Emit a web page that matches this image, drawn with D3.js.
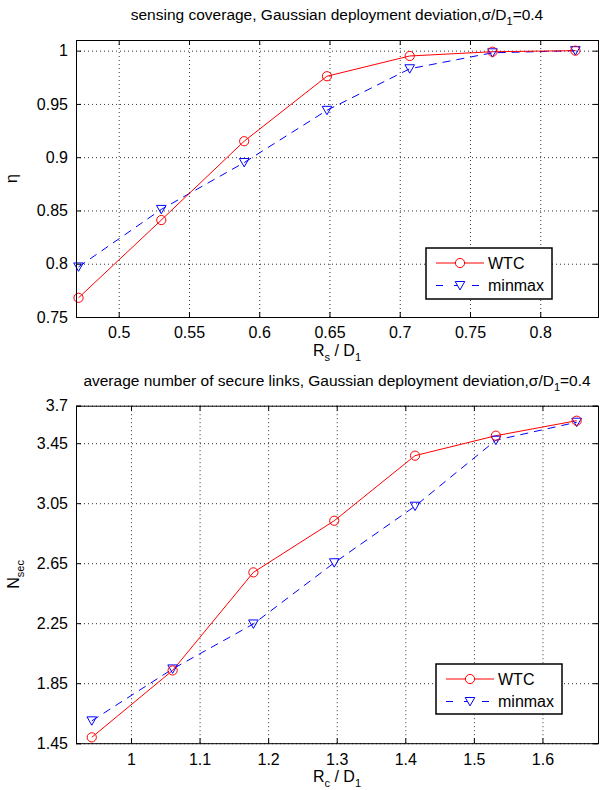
<!DOCTYPE html>
<html>
<head>
<meta charset="utf-8">
<script src="https://cdn.jsdelivr.net/npm/d3@7"></script>
<style>
  body { margin: 0; background: #fff; }
  svg { display: block; font-family: "Liberation Sans", Arial, sans-serif; }
  .grid line { stroke: #000; stroke-width: 1; stroke-dasharray: 1,3; opacity: 0.8; }
  .axis path, .axis line { stroke: #000; }
  .axis text { font-size: 16px; fill: #000; }
</style>
</head>
<body>
<div id="chart"></div>
<script>
// top panel: sensing coverage
var rsD1 = [0.4714, 0.5303, 0.5893, 0.6482, 0.7071, 0.7660, 0.8250];
var etaWTC = [0.768, 0.841, 0.915, 0.976, 0.995, 0.999, 1.000];
var etaMinmax = [0.797, 0.851, 0.895, 0.944, 0.983, 0.998, 1.000];
var rsTicks = [0.5, 0.55, 0.6, 0.65, 0.7, 0.75, 0.8];
var etaTicks = [0.75, 0.8, 0.85, 0.9, 0.95, 1];

// bottom panel: secure links
var rcD1 = [0.9428, 1.0607, 1.1785, 1.2964, 1.4142, 1.5321, 1.6499];
var nsecWTC = [1.489, 1.935, 2.589, 2.933, 3.367, 3.500, 3.600];
var nsecMinmax = [1.599, 1.945, 2.245, 2.653, 3.030, 3.470, 3.590];
var rcTicks = [1, 1.1, 1.2, 1.3, 1.4, 1.5, 1.6];
var nsecTicks = [1.45, 1.85, 2.25, 2.65, 3.05, 3.45, 3.7];

var seriesNames = ['WTC', 'minmax'];

var width = 613, height = 790;
var svg = d3.select('#chart').append('svg')
    .attr('width', width)
    .attr('height', height);

function fmt(d) { return String(+d.toFixed(2)); }

var tri = 'M-4.8,-4 L4.8,-4 L0,4.4 Z';

function drawPanel(cfg) {
    var x = d3.scaleLinear().domain(cfg.xDomain).range([cfg.left, cfg.right]);
    var y = d3.scaleLinear().domain(cfg.yDomain).range([cfg.bottom, cfg.top]);
    var w = cfg.right - cfg.left, h = cfg.bottom - cfg.top;
    var g = svg.append('g');

    // dotted grid
    g.append('g').attr('class', 'grid')
        .attr('transform', 'translate(0,' + cfg.bottom + ')')
        .call(d3.axisBottom(x).tickValues(cfg.xTicks).tickSize(-h).tickFormat(''))
        .call(function(s) { s.select('.domain').remove(); });
    g.append('g').attr('class', 'grid')
        .attr('transform', 'translate(' + cfg.left + ',0)')
        .call(d3.axisLeft(y).tickValues(cfg.yTicks).tickSize(-w).tickFormat(''))
        .call(function(s) { s.select('.domain').remove(); });

    // lines + markers
    var line = d3.line()
        .x(function(d) { return x(d[0]); })
        .y(function(d) { return y(d[1]); });
    var wtc = cfg.xs.map(function(v, i) { return [v, cfg.a[i]]; });
    var mm = cfg.xs.map(function(v, i) { return [v, cfg.b[i]]; });

    g.append('path').datum(mm)
        .attr('d', line).attr('fill', 'none')
        .attr('stroke', '#0000ff').attr('stroke-width', 1)
        .attr('stroke-dasharray', '8,6');
    g.append('path').datum(wtc)
        .attr('d', line).attr('fill', 'none')
        .attr('stroke', '#ff0000').attr('stroke-width', 1);

    g.selectAll('.tri').data(mm).enter().append('path')
        .attr('d', tri)
        .attr('transform', function(d) { return 'translate(' + x(d[0]) + ',' + y(d[1]) + ')'; })
        .attr('fill', 'none').attr('stroke', '#0000ff');
    g.selectAll('.circ').data(wtc).enter().append('circle')
        .attr('cx', function(d) { return x(d[0]); })
        .attr('cy', function(d) { return y(d[1]); })
        .attr('r', 4.6)
        .attr('fill', 'none').attr('stroke', '#ff0000');

    // axes, ticks pointing inward on all sides
    g.append('g').attr('class', 'axis')
        .attr('transform', 'translate(0,' + cfg.bottom + ')')
        .call(d3.axisBottom(x).tickValues(cfg.xTicks).tickSize(-5).tickPadding(10).tickFormat(fmt));
    g.append('g').attr('class', 'axis')
        .attr('transform', 'translate(0,' + cfg.top + ')')
        .call(d3.axisTop(x).tickValues(cfg.xTicks).tickSize(-5).tickFormat(''));
    g.append('g').attr('class', 'axis')
        .attr('transform', 'translate(' + cfg.left + ',0)')
        .call(d3.axisLeft(y).tickValues(cfg.yTicks).tickSize(-5).tickPadding(8).tickFormat(fmt));
    g.append('g').attr('class', 'axis')
        .attr('transform', 'translate(' + cfg.right + ',0)')
        .call(d3.axisRight(y).tickValues(cfg.yTicks).tickSize(-5).tickFormat(''));

    // title
    var t = g.append('text')
        .attr('x', cfg.left + w / 2).attr('y', cfg.top - 20)
        .attr('text-anchor', 'middle').attr('font-size', 15.5);
    t.append('tspan').text(cfg.title + '\u03c3/D');
    t.append('tspan').attr('font-size', 11).attr('dy', 5).text('1');
    t.append('tspan').attr('dy', -5).text('=0.4');

    // x label
    var xl = g.append('text')
        .attr('x', cfg.left + w / 2).attr('y', cfg.bottom + 39)
        .attr('text-anchor', 'middle').attr('font-size', 16);
    xl.append('tspan').text('R');
    xl.append('tspan').attr('font-size', 11).attr('dy', 5).text(cfg.xSub);
    xl.append('tspan').attr('dy', -5).text(' / D');
    xl.append('tspan').attr('font-size', 11).attr('dy', 5).text('1');

    // y label
    var yl = g.append('text')
        .attr('transform', 'translate(' + cfg.yLabelX + ',' + (cfg.top + h / 2) + ') rotate(-90)')
        .attr('text-anchor', 'middle').attr('font-size', 16);
    yl.append('tspan').text(cfg.yMain);
    if (cfg.ySub) yl.append('tspan').attr('font-size', 11).attr('dy', 5).text(cfg.ySub);

    // legend
    var L = cfg.legend;
    g.append('rect')
        .attr('x', L.x).attr('y', L.y).attr('width', L.w).attr('height', L.h)
        .attr('fill', '#fff').attr('stroke', '#000').attr('stroke-width', 1.5);
    seriesNames.forEach(function(name, i) {
        var ry = L.y + 15 + i * 22.5;
        var lx0 = L.x + 10, lx1 = L.x + 58, mx = (lx0 + lx1) / 2;
        if (i === 0) {
            g.append('line').attr('x1', lx0).attr('x2', lx1).attr('y1', ry).attr('y2', ry)
                .attr('stroke', '#ff0000');
            g.append('circle').attr('cx', mx).attr('cy', ry).attr('r', 4.6)
                .attr('fill', '#fff').attr('stroke', '#ff0000');
        } else {
            g.append('line').attr('x1', lx0).attr('x2', lx1).attr('y1', ry).attr('y2', ry)
                .attr('stroke', '#0000ff').attr('stroke-dasharray', '7,11');
            g.append('path').attr('d', tri)
                .attr('transform', 'translate(' + mx + ',' + ry + ')')
                .attr('fill', '#fff').attr('stroke', '#0000ff');
        }
        g.append('text').attr('x', lx1 + 4).attr('y', ry + 5.5)
            .attr('font-size', 16).text(name);
    });
}

drawPanel({
    xDomain: [0.4696, 0.8411], yDomain: [0.75, 1.01],
    left: 76, right: 598, top: 40, bottom: 317,
    xs: rsD1, a: etaWTC, b: etaMinmax,
    xTicks: rsTicks, yTicks: etaTicks,
    title: 'sensing coverage, Gaussian deployment deviation,',
    xSub: 's', yMain: '\u03b7', ySub: null, yLabelX: 17,
    legend: { x: 426, y: 248, w: 126, h: 51 }
});

drawPanel({
    xDomain: [0.9198, 1.681], yDomain: [1.45, 3.7],
    left: 76, right: 598, top: 405.7, bottom: 743.2,
    xs: rcD1, a: nsecWTC, b: nsecMinmax,
    xTicks: rcTicks, yTicks: nsecTicks,
    title: 'average number of secure links, Gaussian deployment deviation,',
    xSub: 'c', yMain: 'N', ySub: 'sec', yLabelX: 19,
    legend: { x: 436, y: 664, w: 126, h: 50 }
});
</script>
</body>
</html>
